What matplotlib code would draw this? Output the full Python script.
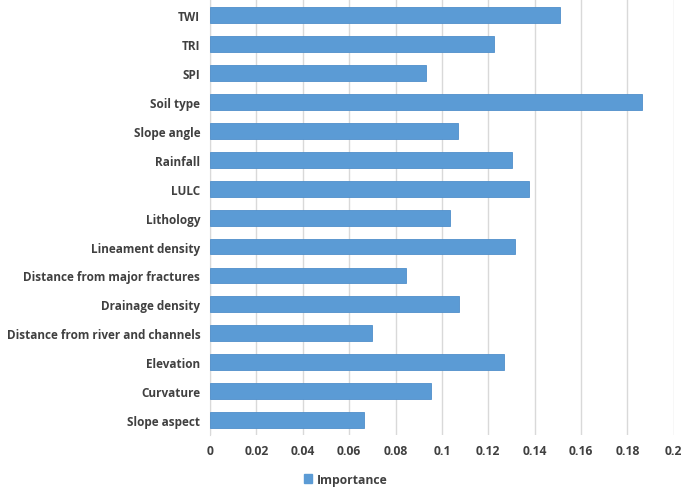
import matplotlib
matplotlib.use("Agg")
from matplotlib import pyplot as plt
from matplotlib.patches import Patch

factors = ["TWI", "TRI", "SPI", "Soil type", "Slope angle", "Rainfall", "LULC",
           "Lithology", "Lineament density", "Distance from major fractures",
           "Drainage density", "Distance from river and channels", "Elevation",
           "Curvature", "Slope aspect"]
importance = [0.1508, 0.1224, 0.0933, 0.1862, 0.1068, 0.1304, 0.1377,
              0.1037, 0.1316, 0.0844, 0.1072, 0.0699, 0.1268, 0.0954, 0.0666]
xticks = [0, 0.02, 0.04, 0.06, 0.08, 0.1, 0.12, 0.14, 0.16, 0.18, 0.2]
xtick_labels = ["0", "0.02", "0.04", "0.06", "0.08", "0.1", "0.12", "0.14",
                "0.16", "0.18", "0.2"]

plt.rcParams["font.family"] = ["Open Sans", "DejaVu Sans"]
text_color = "#404040"
bar_color = "#5B9BD5"

fig = plt.figure(figsize=(6.85, 4.89), dpi=100)
ax = fig.add_axes([0.3066, 0.109, 0.677, 0.888])

pos = list(range(len(factors)))
ax.barh(pos, importance, height=0.55, color=bar_color,
        edgecolor="#4F8FCB", linewidth=0.6, zorder=3)
ax.set_ylim(len(factors) - 0.5, -0.5)
ax.set_yticks(pos)
ax.set_yticklabels(factors, fontsize=8.5, fontweight="bold", color=text_color)

ax.set_xlim(0, 0.2)
ax.set_xticks(xticks)
ax.set_xticklabels(xtick_labels, fontsize=8.7, fontweight="bold", color=text_color)
ax.xaxis.grid(True, color="#D9D9D9", linewidth=1, zorder=0)
ax.tick_params(axis="y", length=0, pad=7)
ax.tick_params(axis="x", length=0, pad=7)

for side in ["top", "right", "bottom"]:
    ax.spines[side].set_visible(False)
ax.spines["left"].set_color("#D9D9D9")

handle = Patch(facecolor=bar_color, edgecolor=bar_color)
fig.legend([handle], ["Importance"], loc="lower center", frameon=False,
           bbox_to_anchor=(0.505, -0.018), handlelength=0.7, handleheight=0.7,
           handletextpad=0.4, prop={"size": 8.7, "weight": "bold"},
           labelcolor=text_color)

fig.savefig("out.png", dpi=100)
